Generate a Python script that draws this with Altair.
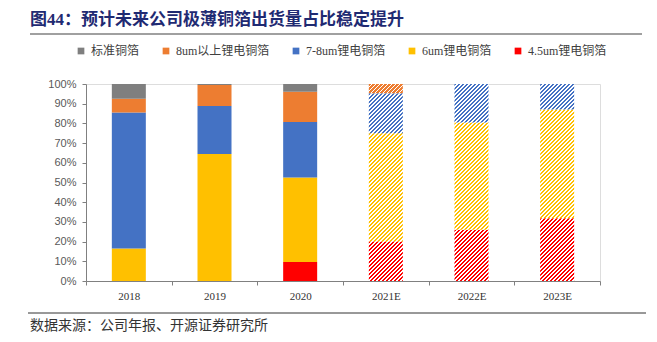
import altair as alt
import pandas as pd

years = ["2018", "2019", "2020", "2021E", "2022E", "2023E"]
forecast = [False, False, False, True, True, True]
series = ["标准铜箔", "8um以上锂电铜箔", "7-8um锂电铜箔", "6um锂电铜箔", "4.5um锂电铜箔"]
colors = ["#7F7F7F", "#ED7D31", "#4472C4", "#FFC000", "#FF0000"]

# shares (%) per series across years
s_std = [7.5, 0.5, 3.9, 0.0, 0.0, 0.0]
s_8up = [7.0, 10.7, 15.4, 4.7, 0.0, 0.0]
s_78 = [69.0, 24.3, 28.1, 20.3, 19.6, 13.0]
s_6 = [16.5, 64.5, 43.0, 55.0, 54.4, 55.2]
s_45 = [0.0, 0.0, 9.6, 20.0, 26.0, 31.8]

values = {
    "标准铜箔": s_std,
    "8um以上锂电铜箔": s_8up,
    "7-8um锂电铜箔": s_78,
    "6um锂电铜箔": s_6,
    "4.5um锂电铜箔": s_45,
}
stack_order = ["4.5um锂电铜箔", "6um锂电铜箔", "7-8um锂电铜箔", "8um以上锂电铜箔", "标准铜箔"]
color_of = dict(zip(series, colors))

rows = []
for i, y in enumerate(years):
    cum = 0.0
    for s in stack_order:
        v = values[s][i] / 100.0
        if v > 0:
            rows.append({"year": y, "series": s, "y0": cum, "y1": cum + v, "fc": forecast[i], "v": v})
        cum += v
df = pd.DataFrame(rows)

PLOT_W, PLOT_H = 514, 197
BAR_W = 34
SERIF = "Liberation Serif, Noto Sans CJK SC"

x_axis = alt.Axis(
    title=None, labelAngle=0, tickBand="extent", tickSize=4, tickColor="#808080",
    domainColor="#808080", labelFont=SERIF, labelFontSize=11, labelColor="#333333",
    labelPadding=5,
)
x_scale = alt.Scale(domain=years, paddingInner=0, paddingOuter=0)
y_axis = alt.Axis(
    title=None, format=".0%", values=[i / 10 for i in range(11)], grid=False,
    labelOverlap=False, labelFlush=False,
    tickSize=4, tickColor="#808080", domainColor="#808080",
    labelFont="Liberation Sans", labelFontSize=11, labelColor="#595959", labelPadding=6,
)
y_scale = alt.Scale(domain=[0, 1])

base = alt.Chart(df).transform_filter("!datum.fc").mark_bar(size=BAR_W).encode(
    x=alt.X("year:N", sort=years, scale=x_scale, axis=x_axis),
    y=alt.Y("y1:Q", scale=y_scale, axis=y_axis),
    y2="y0:Q",
    color=alt.Color(
        "series:N",
        scale=alt.Scale(domain=series, range=colors),
        legend=alt.Legend(
            title=None, orient="none", direction="horizontal", legendX=-11, legendY=-39,
            symbolType="square", symbolSize=45, symbolStrokeWidth=0,
            labelFont=SERIF, labelFontSize=12, labelColor="#404040", columnPadding=20,
            labelOffset=4,
        ),
    ),
)


def hatch(color, h_px, w_px=BAR_W, period=4.0, frac=0.55):
    k = h_px / w_px
    dx = (1 + k) / (1 + k * k)
    dy = k * dx
    step = period / (w_px + h_px)
    stops = []
    a = 0.0
    while a < 1.0:
        b = min(1.0, a + frac * step)
        c = min(1.0, a + step)
        stops += [
            alt.GradientStop(offset=a, color=color),
            alt.GradientStop(offset=b, color=color),
            alt.GradientStop(offset=b, color="#ffffff"),
            alt.GradientStop(offset=c, color="#ffffff"),
        ]
        a += step
    return alt.LinearGradient(gradient="linear", stops=stops, x1=0, y1=0, x2=dx, y2=dy)


layers = [base]
for _, r in df[df["fc"]].iterrows():
    seg = pd.DataFrame([r.to_dict()])
    h_px = r["v"] * PLOT_H
    layers.append(
        alt.Chart(seg).mark_bar(size=BAR_W, fill=hatch(color_of[r["series"]], h_px)).encode(
            x=alt.X("year:N", sort=years, scale=x_scale, axis=x_axis),
            y=alt.Y("y1:Q", scale=y_scale, axis=y_axis),
            y2="y0:Q",
        )
    )

dummy = pd.DataFrame({"a": [0]})
title = alt.Chart(dummy).mark_text(
    text="图44：预计未来公司极薄铜箔出货量占比稳定提升", align="left", baseline="middle",
    font=SERIF, fontSize=17, fontWeight="bold", color="#1F2A72",
).encode(x=alt.value(30 - 86), y=alt.value(19.5 - 84))
title_rule = alt.Chart(dummy).mark_rule(color="#A0A0A0", strokeWidth=2).encode(
    x=alt.value(30 - 86), x2=alt.value(642 - 86), y=alt.value(34 - 84)
)
foot_rule = alt.Chart(dummy).mark_rule(color="#333333", strokeWidth=1).encode(
    x=alt.value(28 - 86), x2=alt.value(646 - 86), y=alt.value(313 - 84)
)
footer = alt.Chart(dummy).mark_text(
    text="数据来源：公司年报、开源证券研究所", align="left", baseline="middle",
    font=SERIF, fontSize=14, color="#333333",
).encode(x=alt.value(30 - 86), y=alt.value(326 - 84))

chart = alt.layer(*layers, title, title_rule, foot_rule, footer).properties(
    width=PLOT_W, height=PLOT_H,
    autosize=alt.AutoSizeParams(type="none"),
    padding={"left": 86, "top": 84, "right": 57, "bottom": 61},
).configure_view(stroke=None).configure(background="white")

chart.save("out.html", embed_options={"renderer": "svg", "actions": False})
